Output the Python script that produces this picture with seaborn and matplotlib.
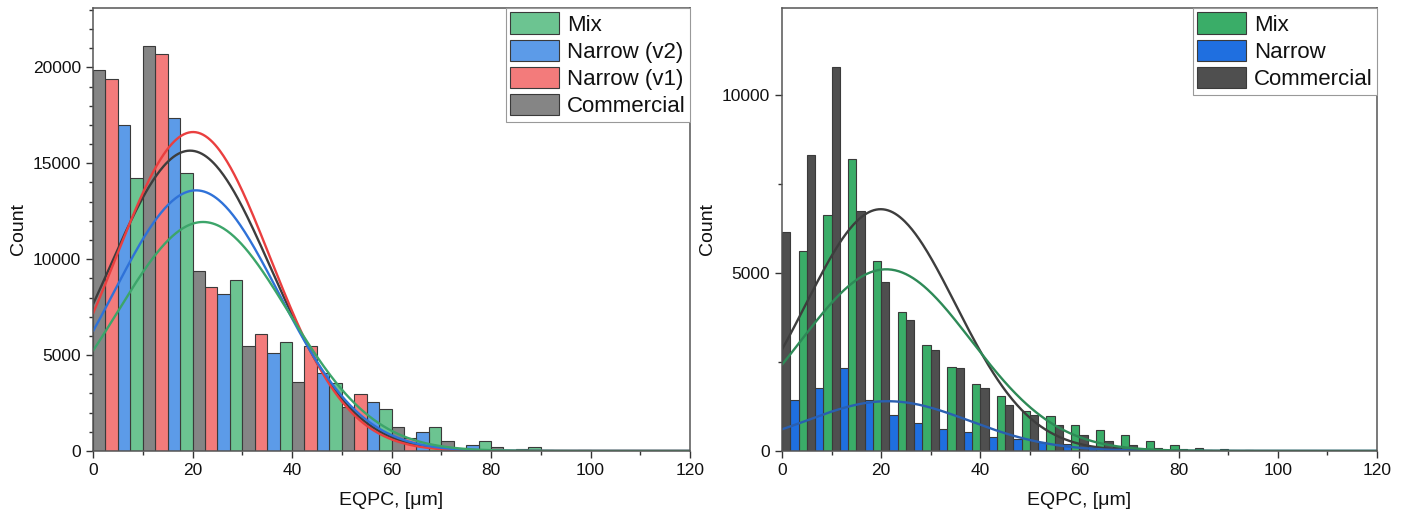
import numpy as np
import pandas as pd
import seaborn as sns
import matplotlib
matplotlib.use('Agg')

from matplotlib import pyplot as plt
from matplotlib.patches import Patch
from matplotlib.ticker import MultipleLocator

# ---- left panel: 10 um bins, four powders ----
left_edges = list(range(0, 130, 10))
left_order = ['Commercial', 'Narrow (v1)', 'Narrow (v2)', 'Mix']
left_commercial = [19840, 21140, 9360, 5470, 3610, 2310, 1250, 500, 200, 50, 15, 0]
left_narrow_v1 = [19410, 20710, 8540, 6090, 5470, 2990, 690, 100, 20, 0, 0, 0]
left_narrow_v2 = [17000, 17340, 8190, 5120, 4080, 2550, 980, 330, 110, 15, 0, 0]
left_mix = [14240, 14510, 8940, 5680, 3520, 2170, 1230, 530, 200, 30, 0, 0]
left_bar_colors = ['#858585', '#f37b7b', '#5c9be8', '#6cc491']
left_line_colors = ['#3d3d3d', '#ea3f3f', '#2f72d8', '#3ca56a']
# normal fit curves: peak height, mean, sd
left_peak = [15660, 16630, 13590, 11940]
left_mean = [19.5, 20.1, 20.7, 22.1]
left_sd = [16.3, 15.5, 16.6, 17.2]

# ---- right panel: 5 um bins, three powders ----
right_edges = list(range(0, 125, 5))
right_order = ['Commercial', 'Narrow', 'Mix']
right_commercial = [6170, 8330, 10800, 6750, 4740, 3680, 2830, 2330, 1760, 1290, 1000, 720,
                    450, 280, 160, 95, 47, 28, 10, 0, 0, 0, 0, 0]
right_narrow = [1430, 1780, 2330, 1420, 1000, 780, 630, 520, 400, 330, 250, 190,
                140, 100, 60, 40, 20, 10, 0, 0, 0, 0, 0, 0]
right_mix = [5630, 6630, 8210, 5350, 3920, 2970, 2370, 1880, 1550, 1120, 985, 730,
             580, 440, 280, 160, 94, 47, 28, 10, 0, 0, 0, 0]
right_bar_colors = ['#4f4f4f', '#1f6fe0', '#3aad68']
right_line_colors = ['#3d3d3d', '#2a5fb0', '#2e8a57']
right_peak = [6800, 1400, 5110]
right_mean = [19.9, 21.3, 21.0]
right_sd = [15.1, 16.5, 17.2]

legend_left = ['Mix', 'Narrow (v2)', 'Narrow (v1)', 'Commercial']
legend_right = ['Mix', 'Narrow', 'Commercial']


def long_table(edges, names, series):
    e = np.asarray(edges, dtype=float)
    centres = (e[:-1] + e[1:]) / 2
    rows = []
    for name, vals in zip(names, series):
        for c, v in zip(centres, vals):
            rows.append({'EQPC': c, 'count': v, 'powder': name})
    return pd.DataFrame(rows)


sns.set_style('ticks')
plt.rcParams['font.family'] = ['Liberation Sans', 'DejaVu Sans']
plt.rcParams['text.color'] = '#111111'
plt.rcParams['axes.labelcolor'] = '#111111'
plt.rcParams['xtick.labelcolor'] = '#111111'
plt.rcParams['ytick.labelcolor'] = '#111111'

fig = plt.figure(figsize=(14.1, 5.17), dpi=100)
ax1 = fig.add_axes([0.066, 0.1277, 0.4234, 0.8569])
ax2 = fig.add_axes([0.5546, 0.1277, 0.422, 0.8569])

panels = [
    (ax1, left_edges, left_order, [left_commercial, left_narrow_v1, left_narrow_v2, left_mix],
     left_bar_colors, left_line_colors, left_peak, left_mean, left_sd, legend_left, 23100, 1000),
    (ax2, right_edges, right_order, [right_commercial, right_narrow, right_mix],
     right_bar_colors, right_line_colors, right_peak, right_mean, right_sd, legend_right, 12460, 2500),
]

xs = np.linspace(0, 120, 500)
for ax, edges, order, series, bcols, lcols, pk, mu, sd, leg, ytop, yminor in panels:
    df = long_table(edges, order, series)
    sns.histplot(data=df, x='EQPC', weights='count', hue='powder', hue_order=order,
                 palette=bcols, multiple='dodge', bins=edges, shrink=1, alpha=1,
                 edgecolor='#3a3a3a', linewidth=0.8, legend=False, ax=ax)
    for p, m, s, c in zip(pk, mu, sd, lcols):
        fit = p * np.exp(-(xs - m) ** 2 / (2 * s ** 2))
        sns.lineplot(x=xs, y=fit, color=c, linewidth=1.7, ax=ax)

    ax.set_xlim(0, 120)
    ax.set_ylim(0, ytop)
    ax.xaxis.set_major_locator(MultipleLocator(20))
    ax.xaxis.set_minor_locator(MultipleLocator(10))
    ax.yaxis.set_major_locator(MultipleLocator(5000))
    ax.yaxis.set_minor_locator(MultipleLocator(yminor))
    ax.tick_params(which='major', direction='out', length=5, width=1, labelsize=12.5,
                   color='#333333', top=False, right=False)
    ax.tick_params(which='minor', direction='out', length=3, width=1, color='#333333')
    for sp in ax.spines.values():
        sp.set_visible(True)
        sp.set_color('#555555')
        sp.set_linewidth(1.1)
    ax.set_xlabel('EQPC, [μm]', fontsize=14, labelpad=10)
    ax.set_ylabel('Count', fontsize=14, labelpad=4)

    cmap = dict(zip(order, bcols))
    handles = [Patch(facecolor=cmap[n], edgecolor='#3a3a3a', linewidth=0.8) for n in leg]
    lg = ax.legend(handles, leg, loc='upper right', fontsize=16, frameon=True,
                   fancybox=False, framealpha=1, edgecolor='#999999',
                   borderaxespad=0, borderpad=0.2, labelspacing=0.18,
                   handlelength=2.2, handleheight=1.1, handletextpad=0.35)
    lg.get_frame().set_linewidth(0.8)

fig.savefig('out.png', dpi=100)
